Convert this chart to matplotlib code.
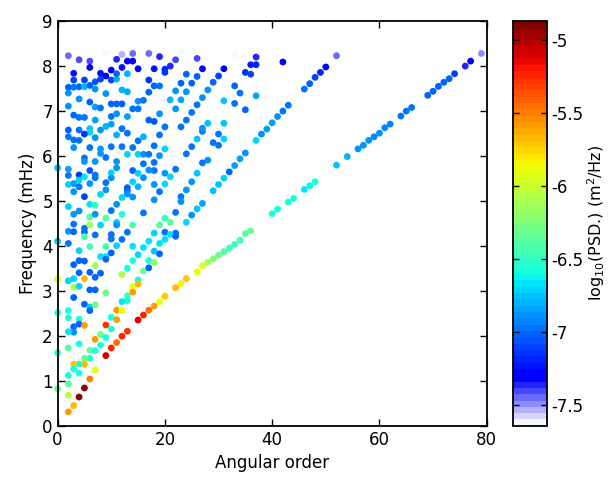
import numpy as np
import matplotlib
matplotlib.use("Agg")
import matplotlib.pyplot as plt
from matplotlib.colors import ListedColormap

# radial modes (angular order 0): frequency in mHz, log10 PSD
radial_freq = [0.82, 1.62, 2.51, 3.26, 4.10, 5.73]
radial_psd = [-6.3, -6.6, -6.6, -5.9, -6.75, -6.75]

# fundamental branch: (angular order, frequency mHz, log10 PSD)
fund_modes = [
    (2, 0.31, -5.6), (3, 0.45, -5.65), (4, 0.64, -4.95), (5, 0.84, -4.95), (6, 1.04, -5.5),
    (7, 1.24, -5.9), (9, 1.56, -5.05), (10, 1.73, -5.25), (11, 1.85, -5.45), (12, 1.99, -5.25),
    (13, 2.10, -5.3), (15, 2.35, -5.1), (16, 2.46, -5.25), (17, 2.57, -5.45), (18, 2.66, -5.6),
    (19, 2.76, -5.9), (20, 2.88, -5.7), (22, 3.07, -5.65), (23, 3.16, -5.85), (24, 3.27, -5.7),
    (26, 3.42, -5.9), (27, 3.55, -5.95), (28, 3.63, -6.1), (29, 3.71, -6.25), (30, 3.79, -6.3),
    (31, 3.87, -6.4), (32, 3.95, -6.45), (33, 4.03, -6.5), (34, 4.12, -6.45), (35, 4.27, -6.35),
    (36, 4.33, -6.3), (40, 4.71, -6.6), (41, 4.81, -6.6), (43, 4.97, -6.6), (44, 5.05, -6.6),
    (46, 5.25, -6.65), (47, 5.33, -6.62), (48, 5.42, -6.6), (52, 5.79, -6.75), (54, 5.98, -6.78),
    (56, 6.15, -6.9), (57, 6.23, -6.9), (58, 6.34, -6.9), (59, 6.42, -6.92), (60, 6.50, -6.9),
    (61, 6.62, -6.92), (62, 6.70, -6.92), (64, 6.88, -6.95), (65, 6.99, -6.95), (66, 7.07, -6.95),
    (69, 7.34, -7.0), (70, 7.43, -7.0), (71, 7.54, -7.0), (72, 7.63, -7.0), (73, 7.71, -7.0),
    (74, 7.82, -7.1), (76, 7.99, -7.35), (77, 8.10, -7.3), (79, 8.27, -7.5),
]

# first overtone branch
over1_modes = [
    (24, 4.52, -6.7), (25, 4.68, -6.9), (26, 4.82, -6.75), (27, 4.94, -6.85), (29, 5.22, -6.75),
    (30, 5.36, -6.75), (31, 5.50, -6.7), (32, 5.64, -7.0), (33, 5.78, -6.85), (34, 5.93, -6.85),
    (35, 6.06, -6.9), (37, 6.34, -6.7), (38, 6.48, -6.9), (39, 6.59, -6.85), (40, 6.73, -6.85),
    (41, 6.87, -6.9), (42, 6.99, -6.95), (43, 7.12, -6.95), (46, 7.48, -6.95), (47, 7.60, -7.0),
    (48, 7.74, -7.1), (49, 7.85, -7.2), (50, 7.97, -7.3), (52, 8.22, -7.45),
]

# higher overtones, above ~6.6 mHz
upper_modes = [
    (2, 8.22, -7.45), (4, 8.13, -7.4), (6, 8.10, -7.4), (9, 8.27, -7.6), (12, 8.25, -7.55),
    (14, 8.27, -7.45), (17, 8.27, -7.45), (19, 8.20, -7.35), (11, 8.14, -7.35), (13, 8.10, -7.3),
    (14, 8.10, -7.3), (6, 7.96, -7.3), (3, 7.83, -7.25), (8, 7.83, -7.25), (9, 7.77, -7.3),
    (10, 7.90, -7.3), (12, 7.96, -7.25), (15, 7.93, -7.3), (18, 7.93, -7.25), (20, 7.92, -7.2),
    (20, 7.85, -7.15), (3, 7.68, -7.1), (5, 7.68, -7.1), (7, 7.64, -7.05), (8, 7.70, -7.1),
    (10, 7.68, -7.1), (11, 7.70, -6.8), (11, 7.82, -7.0), (2, 7.52, -7.0), (3, 7.52, -6.95),
    (4, 7.53, -7.0), (5, 7.53, -6.8), (6, 7.56, -7.0), (7, 7.48, -6.9), (2, 7.39, -6.9),
    (4, 7.26, -6.9), (6, 7.19, -7.0), (7, 7.08, -6.85), (8, 7.06, -6.95), (9, 7.38, -6.9),
    (10, 7.15, -7.0), (11, 7.15, -7.0), (12, 7.15, -7.0), (12, 7.46, -6.8), (13, 7.42, -6.85),
    (13, 7.82, -6.8), (14, 7.04, -6.95), (15, 7.21, -6.9), (15, 7.04, -6.95), (16, 7.23, -6.95),
    (17, 7.41, -7.0), (17, 7.68, -7.15), (18, 7.55, -7.0), (19, 7.55, -6.95), (2, 7.10, -6.9),
    (3, 6.90, -7.0), (4, 6.85, -6.95), (5, 6.85, -6.95), (7, 6.79, -6.85), (10, 6.87, -6.95),
    (11, 6.93, -6.9), (13, 6.87, -6.85), (17, 6.79, -7.0), (18, 6.76, -7.05), (9, 6.65, -6.8),
    (10, 6.70, -6.85), (23, 8.30, -7.6), (22, 8.13, -7.4), (21, 7.99, -7.35), (26, 8.16, -7.4),
    (27, 7.93, -7.3), (31, 7.93, -7.3), (33, 8.25, -7.6), (37, 8.19, -7.35), (36, 8.02, -7.2),
    (37, 8.02, -7.2), (35, 7.85, -7.15), (36, 7.81, -7.1), (42, 8.08, -7.3), (24, 7.81, -7.0),
    (26, 7.76, -7.0), (30, 7.77, -7.1), (29, 7.63, -7.0), (23, 7.61, -7.0), (25, 7.61, -7.0),
    (28, 7.46, -6.9), (33, 7.55, -7.0), (22, 7.44, -6.9), (24, 7.42, -6.9), (27, 7.29, -6.9),
    (34, 7.39, -6.95), (37, 7.33, -6.85), (21, 7.24, -6.8), (23, 7.24, -6.85), (31, 7.22, -6.75),
    (33, 7.16, -6.95), (26, 7.13, -6.95), (22, 7.04, -6.9), (35, 7.02, -7.0), (25, 6.96, -6.95),
    (19, 6.93, -6.9), (24, 6.79, -6.95), (28, 6.72, -6.75), (31, 6.72, -6.75), (23, 6.64, -6.95),
    (20, 6.64, -6.95), (27, 6.61, -6.9),
]

# higher overtones, ~4.4 to 6.6 mHz
middle_modes = [
    (2, 6.57, -7.0), (4, 6.57, -6.95), (6, 6.60, -6.75), (6, 6.52, -6.7), (5, 6.48, -7.15),
    (2, 6.42, -6.95), (3, 6.35, -6.95), (4, 6.34, -6.95), (7, 6.40, -6.9), (8, 6.57, -6.9),
    (11, 6.46, -6.8), (13, 6.50, -6.95), (12, 6.60, -6.95), (15, 6.33, -6.95), (16, 6.42, -6.8),
    (18, 6.22, -6.95), (19, 6.46, -6.95), (20, 6.15, -6.7), (3, 6.18, -6.9), (6, 6.18, -6.95),
    (8, 6.15, -6.9), (8, 6.05, -6.9), (9, 5.96, -6.95), (10, 6.20, -6.95), (12, 6.20, -6.95),
    (13, 6.03, -6.7), (14, 6.18, -6.95), (15, 6.03, -6.7), (16, 6.03, -6.9), (17, 6.03, -6.95),
    (18, 5.85, -6.95), (16, 5.82, -6.95), (2, 5.70, -6.85), (2, 5.56, -6.95), (2, 5.36, -6.7),
    (3, 5.38, -6.9), (4, 5.57, -7.15), (4, 5.46, -6.7), (4, 5.31, -6.95), (5, 5.95, -6.95),
    (5, 5.87, -6.9), (5, 5.53, -6.65), (6, 5.67, -7.05), (7, 5.87, -6.9), (7, 5.57, -6.95),
    (7, 5.51, -6.95), (6, 5.38, -6.9), (9, 5.40, -6.95), (10, 5.62, -6.7), (10, 5.51, -6.9),
    (11, 5.73, -6.9), (11, 5.87, -6.9), (14, 5.67, -7.0), (15, 5.61, -6.7), (16, 5.51, -6.9),
    (13, 5.29, -7.0), (13, 5.22, -7.0), (13, 5.15, -6.9), (14, 5.42, -6.7), (14, 5.08, -6.9),
    (15, 5.31, -6.8), (17, 5.68, -6.9), (18, 5.67, -6.95), (20, 5.61, -6.9), (20, 5.37, -6.7),
    (18, 5.36, -6.9), (3, 5.20, -6.9), (5, 5.09, -7.1), (8, 5.14, -6.7), (9, 5.24, -6.9),
    (12, 5.07, -6.7), (18, 5.02, -6.9), (2, 4.87, -6.7), (6, 4.92, -6.65), (7, 4.90, -6.55),
    (11, 4.92, -6.9), (3, 4.70, -6.9), (4, 4.77, -6.9), (6, 4.64, -6.4), (7, 4.70, -6.9),
    (9, 4.61, -6.4), (10, 4.78, -6.95), (12, 4.70, -6.6), (16, 4.73, -6.95), (14, 4.46, -6.4),
    (19, 4.46, -6.35), (6, 4.46, -6.15), (8, 4.46, -6.7), (11, 4.52, -6.7), (11, 4.46, -6.9),
    (3, 4.48, -6.95), (24, 6.04, -6.95), (19, 6.00, -6.9), (24, 5.24, -6.9), (23, 5.09, -6.95),
    (23, 4.98, -6.9), (22, 5.70, -6.95), (21, 5.53, -6.7), (19, 5.20, -6.95), (22, 4.74, -6.95),
    (20, 4.61, -6.5), (21, 4.52, -6.35), (31, 6.37, -6.7), (30, 6.48, -6.95), (30, 6.23, -6.95),
    (29, 6.29, -6.95), (27, 6.54, -6.95), (26, 6.37, -6.75), (25, 6.20, -6.95), (27, 5.84, -6.95),
    (28, 5.90, -6.9), (26, 5.61, -6.75), (25, 5.42, -6.9),
]

# higher overtones, below ~4.4 mHz
lower_modes = [
    (2, 4.32, -6.9), (3, 4.31, -7.0), (5, 4.39, -6.95), (5, 4.30, -6.95), (7, 4.24, -6.95),
    (13, 4.30, -6.95), (18, 4.28, -6.7), (20, 4.30, -6.95), (22, 4.28, -6.95), (5, 4.20, -6.4),
    (10, 4.25, -6.95), (10, 4.15, -6.95), (2, 4.05, -6.95), (6, 3.98, -6.45), (4, 3.89, -6.7),
    (9, 3.98, -6.45), (11, 4.00, -6.7), (12, 4.14, -6.95), (14, 3.99, -6.65), (16, 3.96, -6.65),
    (17, 4.10, -6.65), (18, 3.88, -6.75), (19, 4.05, -6.65), (19, 3.82, -7.0), (20, 4.14, -6.65),
    (21, 4.25, -6.65), (22, 4.21, -7.0), (8, 3.76, -6.65), (9, 3.76, -6.65), (9, 3.70, -7.0),
    (10, 3.84, -7.0), (15, 3.80, -6.7), (17, 3.67, -6.6), (18, 3.63, -6.2), (14, 3.67, -6.6),
    (13, 3.50, -6.6), (12, 3.36, -6.1), (4, 3.67, -7.0), (5, 3.66, -7.0), (3, 3.58, -7.0),
    (7, 3.56, -6.15), (6, 3.41, -7.0), (8, 3.39, -7.0), (7, 3.30, -7.0), (4, 3.40, -7.0),
    (5, 3.27, -5.65), (3, 3.27, -6.7), (2, 3.22, -6.7), (3, 3.08, -6.1), (4, 3.10, -6.7),
    (6, 3.02, -7.0), (7, 3.02, -7.0), (9, 2.95, -6.3), (3, 2.85, -7.0), (5, 2.70, -7.0),
    (6, 2.64, -6.7), (6, 2.56, -7.0), (7, 2.69, -6.3), (14, 3.09, -5.9), (14, 2.97, -5.6),
    (13, 2.89, -6.45), (13, 2.78, -6.6), (12, 2.76, -6.65), (15, 3.24, -6.6), (15, 3.15, -5.65),
    (16, 3.44, -6.3), (17, 3.51, -7.0), (11, 2.57, -5.6), (12, 2.56, -5.9), (10, 2.41, -6.6),
    (11, 2.36, -5.6), (9, 2.24, -5.3), (10, 2.15, -6.6), (8, 2.03, -6.3), (4, 2.37, -6.6),
    (4, 2.26, -7.0), (5, 2.23, -5.6), (3, 2.20, -7.0), (3, 2.08, -6.9), (2, 2.09, -6.65),
    (2, 2.56, -6.6), (2, 2.40, -6.6), (7, 1.92, -5.6), (2, 1.73, -6.4), (4, 1.82, -6.6),
    (6, 1.68, -6.3), (7, 1.67, -6.6), (6, 1.50, -6.6), (5, 1.50, -6.3), (5, 1.37, -5.65),
    (4, 1.37, -6.6), (4, 1.17, -6.6), (3, 1.37, -5.7), (3, 1.26, -6.6), (2, 1.12, -6.6),
    (2, 0.93, -6.35), (2, 0.68, -6.05), (8, 1.79, -6.6), (9, 1.96, -6.6),
]

cticks = [-7.5, -7, -6.5, -6, -5.5, -5]
cticklabels = ["-7.5", "-7", "-6.5", "-6", "-5.5", "-5"]
clim = (-7.64, -4.87)

# jet with the lowest levels faded to white
colors = plt.get_cmap("jet", 64)(np.arange(64))
for i in range(7):
    t = i / 7.0
    colors[i, :3] = (1 - t) * np.array([0.97, 0.97, 1.0]) + t * np.array([0.0, 0.0, 1.0])
cmap = ListedColormap(colors)

plt.rcParams["font.family"] = "DejaVu Sans"
plt.rcParams["axes.unicode_minus"] = False

modes = np.array([(0, f, p) for f, p in zip(radial_freq, radial_psd)]
                 + lower_modes + middle_modes + upper_modes + over1_modes + fund_modes)

fig = plt.figure(figsize=(6.13, 4.79), dpi=100)
ax = fig.add_axes([0.094, 0.111, 0.700, 0.846])
cax = fig.add_axes([0.837, 0.111, 0.055, 0.846])

sc = ax.scatter(modes[:, 0], modes[:, 1], c=modes[:, 2], cmap=cmap,
                vmin=clim[0], vmax=clim[1], s=24, linewidths=0, clip_on=False)

ax.set_xlim(0, 80)
ax.set_ylim(0, 9)
ax.set_xticks([0, 20, 40, 60, 80])
ax.set_yticks(range(10))
ax.tick_params(direction="in", length=5, width=1, top=True, right=True, labelsize=12)
for sp in ax.spines.values():
    sp.set_linewidth(1.3)
ax.set_xlabel("Angular order", fontsize=12)
ax.set_ylabel("Frequency (mHz)", fontsize=12, labelpad=4)

cb = fig.colorbar(sc, cax=cax, ticks=cticks)
cb.set_ticklabels(cticklabels)
cb.ax.tick_params(direction="in", length=4, width=1, left=True, right=True, labelsize=12)
cb.outline.set_linewidth(1.3)
cb.set_label(r"log$_{10}$(PSD.) (m$^2$/Hz)", fontsize=11.5, labelpad=1)

fig.savefig("out.png", dpi=100)
